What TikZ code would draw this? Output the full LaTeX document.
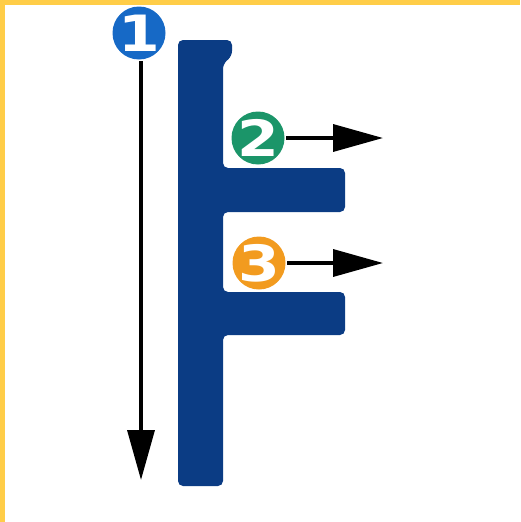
\documentclass[tikz,border=0pt]{standalone}
\usepackage{fontspec}
\setsansfont{DejaVu Sans}
\usetikzlibrary{arrows.meta}

\definecolor{frame}{HTML}{FFCD48}
\definecolor{fnavy}{HTML}{0B3C84}
\definecolor{oneblue}{HTML}{1669C6}
\definecolor{twogreen}{HTML}{1B9569}
\definecolor{threeorange}{HTML}{F29B1F}

\newcommand{\wide}[1]{\scalebox{1.2}[1]{#1}}

\begin{document}
\begin{tikzpicture}[x=1pt,y=-1pt,line width=3.5pt,
  num/.style={circle,inner sep=-9pt,minimum size=53pt,text=white,
    font=\sffamily\bfseries\fontsize{50}{50}\selectfont},
  pointer/.style={draw=black,-{Triangle[length=50pt,width=27pt]}}]
\useasboundingbox (0,0) rectangle (520,522);
% frame on the top and left edges
\fill[frame] (0,0) rectangle (520,5);
\fill[frame] (0,0) rectangle (5,522);
% the F
\fill[fnavy,rounded corners=5pt] (178,40) -- (232,40) -- (232,56) -- (223,64)
  -- (223,168) -- (345,168) -- (345,212) -- (223,212)
  -- (223,292) -- (345,292) -- (345,335) -- (223,335)
  -- (223,486) -- (178,486) -- cycle;
% numbered markers
\node[num,fill=oneblue] (n1) at (139,33) {\wide{1}};
\node[num,fill=twogreen] (n2) at (258,138) {\wide{2}};
\node[num,fill=threeorange] (n3) at (259,263) {\wide{3}};
\coordinate (t1) at (141,480);
\coordinate (t2) at (383,138);
\coordinate (t3) at (383,263);
\draw[pointer] (n1.south -| t1) -- (t1);
\draw[pointer] (n2) -- (t2);
\draw[pointer] (n3) -- (t3);
\end{tikzpicture}
\end{document}
